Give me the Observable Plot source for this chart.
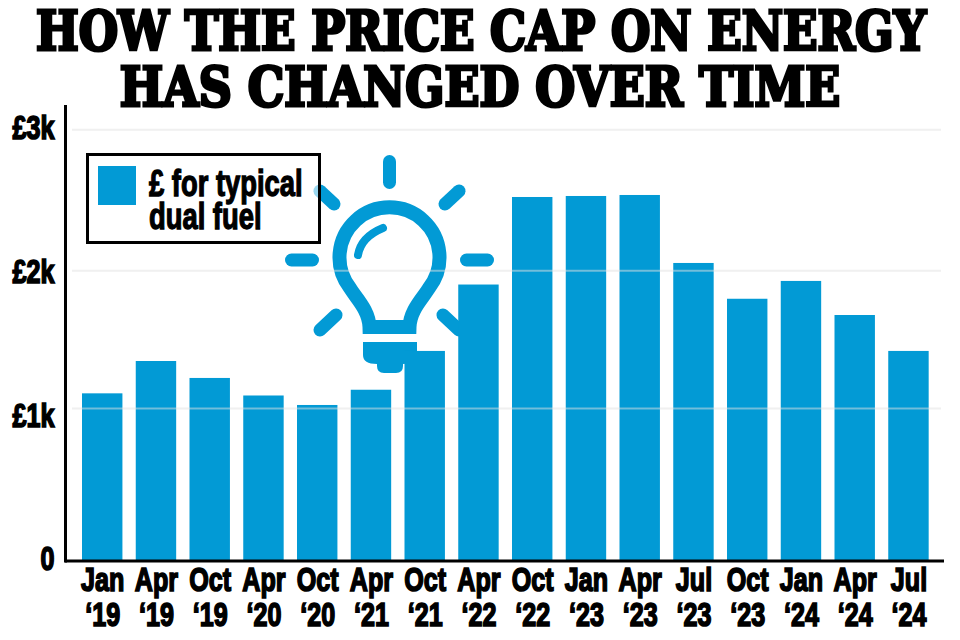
<!DOCTYPE html>
<html>
<head>
<meta charset="utf-8">
<script src="https://cdn.jsdelivr.net/npm/d3@7"></script>
<script src="https://cdn.jsdelivr.net/npm/@observablehq/plot@0.6"></script>
<style>
html,body{margin:0;padding:0;background:#fff;width:960px;height:640px;overflow:hidden;position:relative}
h1{position:absolute;left:50%;margin:0;font:bold 50px/1 "DejaVu Serif Condensed","DejaVu Serif",serif;color:#000;-webkit-text-stroke:2.8px #000;white-space:nowrap}
#t1{top:5.5px;transform:translateX(-50%) scale(1.005,1.1);margin-left:1px}#t2{top:61.5px;transform:translateX(-50%) scale(1.02,1.1)}
#bulb{position:absolute;left:0;top:0}
#plot{position:absolute;left:0;top:105px}
#plot svg text{font-family:"Liberation Sans","Arimo",sans-serif;font-weight:bold;stroke:#000;stroke-width:1.7px;fill:#000}
#legend{position:absolute;left:86px;top:153px;width:229px;height:85px;border:3px solid #000;background:rgba(255,255,255,.6)}
#swatch{position:absolute;left:9px;top:10px;width:38px;height:39px;background:#029ad5}
#ltext{position:absolute;left:60px;top:11px;font:bold 36px/33px "Liberation Sans",sans-serif;color:#000;-webkit-text-stroke:1.3px #000;white-space:nowrap;transform:scaleX(.76);transform-origin:0 0}
</style>
</head>
<body>
<h1 id="t1">HOW THE PRICE CAP ON ENERGY</h1>
<h1 id="t2">HAS CHANGED OVER TIME</h1>
<svg id="bulb" width="960" height="640" fill="none" stroke="#029ad5" aria-hidden="true">
  <g stroke-width="13" stroke-linecap="round">
    <path d="M389.5 161.5V182.5"/><path d="M445 204L459 191"/><path d="M334 204L320 191"/>
    <path d="M291.5 260H312.5"/><path d="M466.5 260H487.5"/>
    <path d="M320 330L336 315"/><path d="M459 330L443 315"/>
  </g>
  <path stroke-width="14" d="M369.5 327C369 310 356 298 350 288A50 50 0 1 1 429 288C423 298 410 310 409.5 327H369.5Z"/>
  <path stroke-width="8" stroke-linecap="round" d="M358 255Q361 237 383 228"/>
  <path stroke="none" fill="#029ad5" d="M363 342H417V355Q417 364 403 364V366Q403 373 396 373H384Q377 373 377 366V364Q363 364 363 355Z"/>
</svg>
<div id="plot"></div>
<div id="legend"><div id="swatch"></div><div id="ltext">£ for typical<br>dual fuel</div></div>
<script>
const months = ["Jan","Apr","Oct","Apr","Oct","Apr","Oct","Apr","Oct","Jan","Apr","Jul","Oct","Jan","Apr","Jul"];
const years = ["19","19","19","20","20","21","21","22","22","23","23","23","23","24","24","24"];
const prices = [1163,1388,1270,1148,1082,1188,1458,1920,2529,2536,2543,2070,1821,1945,1708,1458];
const yTicks = [0,1000,2000,3000];
const yLabels = ["0","£1k","£2k","£3k"];
const gridLevels = [1061,2019,3000];
const barColor = "#029ad5";

const periods = months.map((m,i)=>`${m}\n‘${years[i]}`);
const rows = periods.map((p,i)=>({period:p,price:prices[i]}));

const chart = Plot.plot({
  width:960, height:535,
  marginTop:0, marginBottom:79.5, marginLeft:65, marginRight:16,
  style:{background:"transparent"},
  x:{type:"band",domain:periods,range:[68.67,942],padding:0.248,round:false,label:null},
  y:{domain:[0,3169],label:null},
  marks:[
    Plot.barY(rows,{x:"period",y:"price",fill:barColor}),
    Plot.ruleY(gridLevels,{stroke:"#e2e2e2",strokeOpacity:0.5,strokeWidth:2,insetLeft:7,insetRight:3}),
    Plot.frame({anchor:"left",stroke:"#000",strokeWidth:3}),
    Plot.ruleY([0],{stroke:"#000",strokeWidth:3}),
    Plot.axisY({ticks:yTicks,tickSize:0,tickPadding:11,fontSize:34,dy:-1.5,tickFormat:d=>yLabels[yTicks.indexOf(d)],label:null}),
    Plot.axisX({tickSize:0,tickPadding:5,fontSize:34,lineHeight:1.03,lineAnchor:"top",label:null})
  ]
});
document.getElementById("plot").appendChild(chart);
// the installed sans has no narrow cut: condense each axis label around its own anchor
chart.querySelectorAll("text").forEach(t=>{
  const tr=t.getAttribute("transform")||"";
  t.setAttribute("transform",tr+" scale(.74,1)");
});
</script>
</body>
</html>
